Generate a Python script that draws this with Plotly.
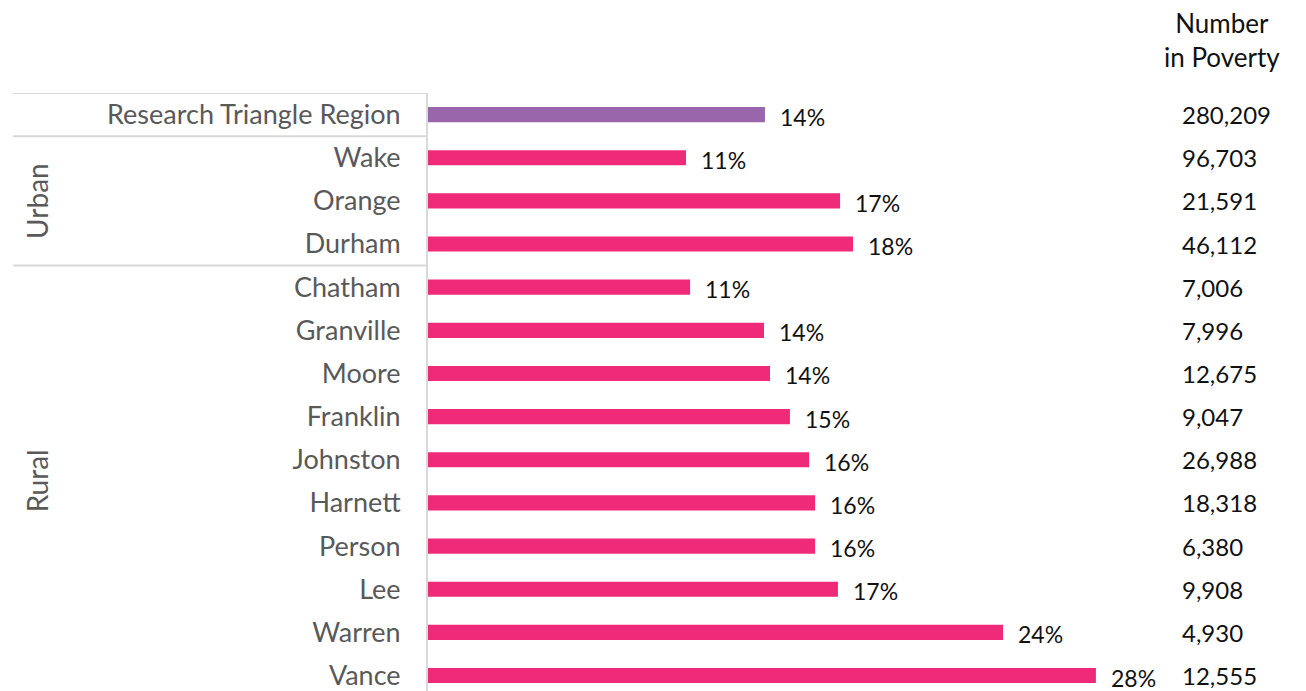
import plotly.graph_objects as go

categories = ["Research Triangle Region", "Wake", "Orange", "Durham", "Chatham", "Granville",
              "Moore", "Franklin", "Johnston", "Harnett", "Person", "Lee", "Warren", "Vance"]
poverty_rate = [14.04, 10.75, 17.17, 17.71, 10.92, 14.0, 14.25, 15.08, 15.88, 16.13, 16.13, 17.08, 23.96, 27.83]
rate_labels = ["14%", "11%", "17%", "18%", "11%", "14%", "14%", "15%", "16%", "16%", "16%", "17%", "24%", "28%"]
number_in_poverty = ["280,209", "96,703", "21,591", "46,112", "7,006", "7,996", "12,675", "9,047",
                     "26,988", "18,318", "6,380", "9,908", "4,930", "12,555"]
groups = [("Urban", 1, 3), ("Rural", 4, 13)]

W, H = 1306, 691
OFF = 8  # page body margin
ML, MT = 428 - OFF, 93 - OFF
PW = W - ML
FONT = "Lato"

def px(xv):
    """visible x pixel -> paper coordinate"""
    return (xv - OFF - ML) / PW

colors = ["#9966AB"] + ["#EF2A79"] * (len(categories) - 1)
ypos = list(range(len(categories)))

fig = go.Figure()
fig.add_trace(go.Bar(
    x=poverty_rate, y=ypos, orientation="h", width=0.35,
    marker=dict(color=colors, line=dict(width=0)),
    hoverinfo="skip", showlegend=False,
))

annotations = []
for i, (v, lab) in enumerate(zip(poverty_rate, rate_labels)):
    annotations.append(dict(x=v, y=i, xref="x", yref="y", text=lab, showarrow=False,
                            xanchor="left", yanchor="middle", xshift=13, yshift=-2,
                            font=dict(family=FONT, size=23, color="#111111")))
for i, n in enumerate(number_in_poverty):
    annotations.append(dict(x=px(1180), y=i, xref="paper", yref="y", text=n, showarrow=False,
                            xanchor="left", yanchor="middle",
                            font=dict(family=FONT, size=24, color="#111111")))
annotations.append(dict(x=px(1222), y=1 + (93 - 40) / (H - MT), xref="paper", yref="paper",
                        text="Number<br>in Poverty", showarrow=False, xanchor="center", yanchor="middle",
                        align="center", font=dict(family=FONT, size=26, color="#111111")))
for name, a, b in groups:
    annotations.append(dict(x=px(37), y=(a + b) / 2, xref="paper", yref="y", text=name,
                            showarrow=False, textangle=-90, xanchor="center", yanchor="middle",
                            font=dict(family=FONT, size=28, color="#595959")))

shapes = []
for yy in [-0.5, 0.5, 3.5]:
    shapes.append(dict(type="line", xref="paper", yref="y", x0=px(13), x1=0, y0=yy, y1=yy,
                       line=dict(color="#D9D9D9", width=2)))

unit_px = 43.15
ymax = -0.5 + (H - MT) / unit_px

fig.update_layout(
    width=W, height=H, margin=dict(l=ML, r=0, t=MT, b=0, pad=0),
    paper_bgcolor="white", plot_bgcolor="white",
    xaxis=dict(range=[0, PW / 24.0], visible=False, fixedrange=True),
    yaxis=dict(range=[ymax, -0.5], tickmode="array", tickvals=ypos, ticktext=categories,
               showgrid=False, zeroline=False, showline=True, linecolor="#D9D9D9", linewidth=2,
               ticks="", ticklabelstandoff=20,
               tickfont=dict(family=FONT, size=27, color="#595959"), fixedrange=True),
    annotations=annotations, shapes=shapes,
    bargap=0.65,
)

fig.write_html("out.html")
